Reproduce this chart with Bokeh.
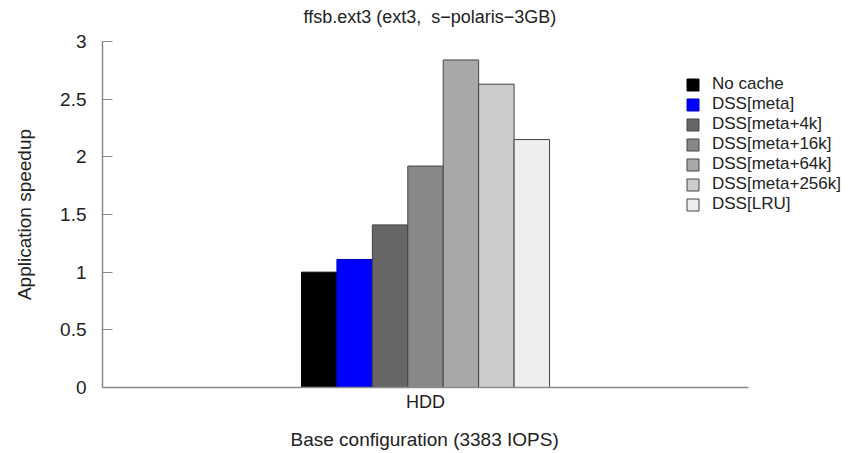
from bokeh.plotting import figure
from bokeh.models import ColumnDataSource, Legend, LegendItem, FixedTicker, Range1d, Title
from bokeh.embed import file_html
from bokeh.resources import INLINE

categories = ["HDD"]
series = ["No cache", "DSS[meta]", "DSS[meta+4k]", "DSS[meta+16k]",
          "DSS[meta+64k]", "DSS[meta+256k]", "DSS[LRU]"]
speedup = [1.00, 1.11, 1.41, 1.92, 2.84, 2.63, 2.15]
colors = ["#000000", "#0000ff", "#666666", "#888888", "#a8a8a8", "#cccccc", "#eeeeee"]
outline = ["#000000", "#0000cc", "#444444", "#444444", "#444444", "#444444", "#444444"]
y_ticks = [0, 0.5, 1, 1.5, 2, 2.5, 3]

FONT = "Liberation Sans"
TXT = "#222222"

n_cat = len(categories)
cat_pos = [i + 0.5 for i in range(n_cat)]
x_end = n_cat * 752 / 646

p = figure(width=858, height=453, x_range=Range1d(0, x_end), y_range=Range1d(0, 3),
           output_backend="svg", toolbar_location=None, title=None,
           min_border_left=102, min_border_right=4, min_border_top=41, min_border_bottom=66)

bw = 0.05485
items = []
for i, (name, val, col, oc) in enumerate(zip(series, speedup, colors, outline)):
    src = ColumnDataSource(dict(x=[c + (i - 3) * bw for c in cat_pos], top=[val]))
    r = p.vbar(x="x", top="top", width=bw, source=src,
               fill_color=col, line_color=oc, line_width=1)
    items.append(LegendItem(label=name, renderers=[r]))

legend = Legend(items=items, location=(583, 173), border_line_color=None,
                background_fill_alpha=0, padding=0, margin=0, spacing=0,
                glyph_width=15, glyph_height=15, label_height=15, label_standoff=12,
                label_text_font=FONT, label_text_font_size="17px", label_text_color=TXT)
p.add_layout(legend)

p.outline_line_color = None
p.xgrid.visible = False
p.ygrid.visible = False

p.yaxis.ticker = FixedTicker(ticks=y_ticks)
p.yaxis.minor_tick_line_color = None
p.yaxis.major_tick_in = 10
p.yaxis.major_tick_out = 0
p.yaxis.major_label_standoff = 16
p.yaxis.axis_label = "Application speedup"
p.yaxis.axis_label_standoff = 22
p.yaxis.major_label_text_font_size = "19px"

p.xaxis.ticker = FixedTicker(ticks=cat_pos, minor_ticks=[])
p.xaxis.major_label_overrides = {c: lab for c, lab in zip(cat_pos, categories)}
p.xaxis.bounds = (0, n_cat)
p.xaxis.major_tick_in = 0
p.xaxis.major_tick_out = 0
p.xaxis.major_label_standoff = 4
p.xaxis.major_label_text_font_size = "18px"

for ax in (p.xaxis, p.yaxis):
    ax.axis_line_color = "#8a8a8a"
    ax.axis_line_width = 1.5
    ax.major_label_text_font = FONT
    ax.major_label_text_color = TXT
    ax.axis_label_text_font = FONT
    ax.axis_label_text_font_size = "19px"
    ax.axis_label_text_font_style = "normal"
    ax.axis_label_text_color = TXT
p.yaxis.major_tick_line_color = "#8a8a8a"
p.xaxis.major_tick_line_color = None
p.xaxis.minor_tick_line_color = None

# top: spacer then chart title (outermost)
p.add_layout(Title(text=" ", text_font_size="1px", standoff=12), "above")
p.add_layout(Title(text="ffsb.ext3 (ext3,\u00a0 s\u2212polaris\u22123GB)", align="left", offset=201,
                   text_font=FONT, text_font_size="18px", text_font_style="normal",
                   text_color=TXT, standoff=0), "above")

# bottom: spacer then x-axis title
p.add_layout(Title(text=" ", text_font_size="1px", standoff=8), "below")
p.add_layout(Title(text="Base configuration (3383 IOPS)", align="left", offset=188,
                   text_font=FONT, text_font_size="19px", text_font_style="normal",
                   text_color=TXT, standoff=2), "below")

open("out.html", "w").write(file_html(p, INLINE))
